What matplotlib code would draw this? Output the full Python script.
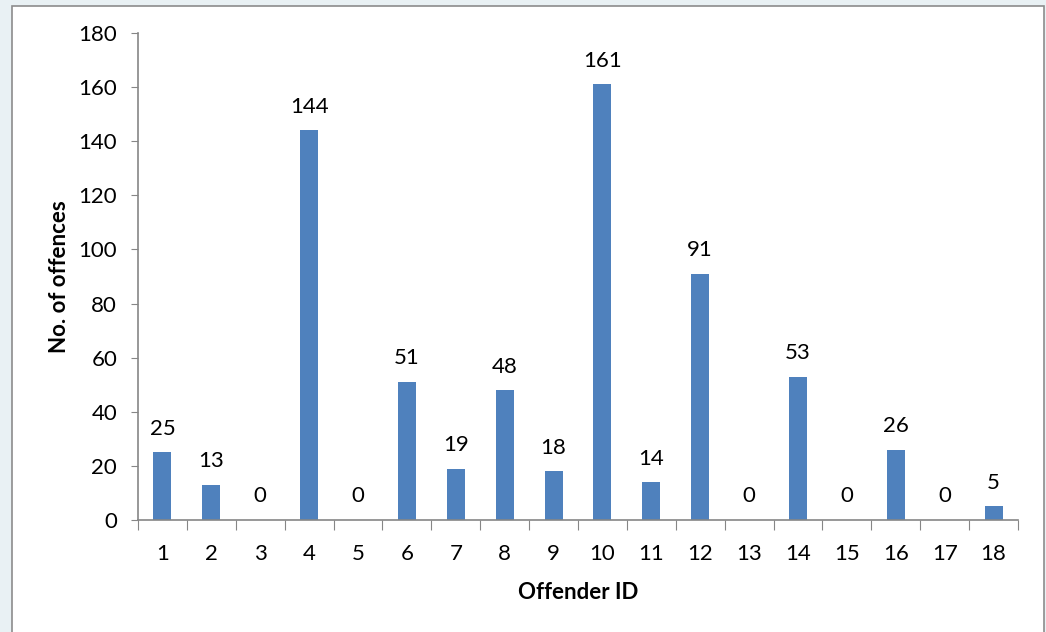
import numpy as np
import matplotlib
matplotlib.use("Agg")
import matplotlib.pyplot as plt
from matplotlib.patches import Rectangle

# Numero de delitos por infractor
offender_ids = [str(i) for i in range(1, 19)]
offences = [25, 13, 0, 144, 0, 51, 19, 48, 18, 161, 14, 91, 0, 53, 0, 26, 0, 5]
y_ticks = [0, 20, 40, 60, 80, 100, 120, 140, 160, 180]

plt.rcParams['font.family'] = ['Lato', 'DejaVu Sans']
fs = 16

fig = plt.figure(figsize=(10.46, 6.32), dpi=100)
fig.patch.set_facecolor('#e9f1f4')
# recuadro blanco del area del grafico
fig.patches.append(Rectangle((12 / 1046, -0.05), 1032 / 1046, 1 - 6 / 632 + 0.05,
                             transform=fig.transFigure, facecolor='white',
                             edgecolor='#8c8c8c', linewidth=1.2, zorder=-10))

ax = fig.add_axes([138 / 1046, 1 - 520 / 632, 880 / 1046, 487 / 632])
ax.set_facecolor('none')

x = np.arange(len(offences))
bars = ax.bar(x, offences, width=0.37, color='#4f81bd', zorder=2)

for xi, v in zip(x, offences):
    ax.text(xi, v + 5, str(v), ha='center', va='bottom', fontsize=fs, color='black')

ax.set_xlim(-0.5, len(offences) - 0.5)
ax.set_ylim(0, 180)
ax.set_yticks(y_ticks)
ax.tick_params(axis='y', labelsize=fs, length=5, color='#868686', pad=10)

# marcas entre categorias, etiquetas centradas
ax.set_xticks(np.arange(-0.5, len(offences), 1.0))
ax.set_xticklabels([])
ax.set_xticks(x, minor=True)
ax.set_xticklabels(offender_ids, minor=True)
ax.tick_params(axis='x', which='major', length=7, color='#868686')
ax.tick_params(axis='x', which='minor', length=0, labelsize=fs, pad=17)

for s in ['top', 'right']:
    ax.spines[s].set_visible(False)
for s in ['left', 'bottom']:
    ax.spines[s].set_color('#868686')
    ax.spines[s].set_linewidth(1.2)

ax.set_xlabel('Offender ID', fontsize=fs, fontweight='bold', labelpad=13)
ax.set_ylabel('No. of offences', fontsize=fs, fontweight='bold', labelpad=6)

plt.savefig('out.png', dpi=100, facecolor=fig.get_facecolor())
